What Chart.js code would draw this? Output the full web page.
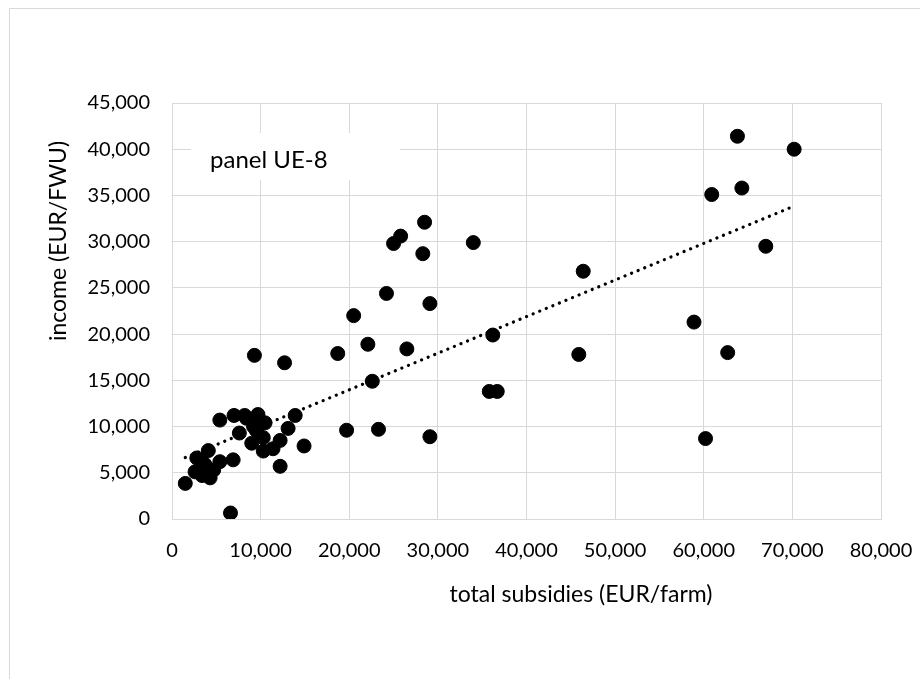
<!DOCTYPE html>
<html>
<head>
<meta charset="utf-8">
<script src="https://cdn.jsdelivr.net/npm/chart.js@4"></script>
<style>
  html, body { margin: 0; padding: 0; background: #fff; }
  #wrap { width: 920px; height: 679px; position: relative; }
</style>
</head>
<body>
<div id="wrap"><canvas id="chart" width="920" height="679"></canvas></div>
<script>
// subsidies (EUR/farm) vs income (EUR/FWU)
const subsidies = [
  63800, 70200, 60900, 64300, 67000, 58900, 62700, 60200,
  46400, 45900, 36200, 35800, 36700,
  28500, 25800, 25000, 28300, 34000, 24200, 29100, 20500, 22100,
  18700, 26500, 22600, 19700, 23300, 29100, 14900, 13900, 9300, 12700,
  1500, 6600, 2800, 4100, 3700, 2600, 4300, 3400, 5400, 4700, 6900, 3300,
  5400, 7000, 8200, 9700, 7600, 9000, 9900, 9200, 10300, 10300, 11400,
  12200, 13100, 12200, 10500, 8400, 9500
];
const income = [
  41400, 40000, 35100, 35800, 29500, 21300, 18000, 8700,
  26800, 17800, 19900, 13800, 13800,
  32100, 30600, 29800, 28700, 29900, 24400, 23300, 22000, 18900,
  17900, 18400, 14900, 9600, 9700, 8900, 7900, 11200, 17700, 16900,
  3850, 650, 6600, 7400, 5900, 5100, 4450, 4700, 6200, 5300, 6400, 6400,
  10700, 11200, 11200, 11300, 9300, 8200, 10200, 10000, 8800, 7350, 7600,
  8500, 9800, 5700, 10400, 10900, 9600
];
// linear trend end points, as drawn
const trendX = [1500, 70200];
const trendY = [6650, 33850];

const xTicksMax = 80000, xStep = 10000;
const yTicksMax = 45000, yStep = 5000;
const panelLabel = 'panel UE-8';
const xTitle = 'total subsidies (EUR/farm)';
const yTitle = 'income (EUR/FWU)';

const FONT = 'Lato, "Open Sans", sans-serif';
const GRID = '#d9d9d9';

const points = subsidies.map((x, i) => ({ x, y: income[i] }));
const trend = trendX.map((x, i) => ({ x, y: trendY[i] }));

// outer frame, panel label box, axis titles
const decor = {
  id: 'decor',
  beforeDraw(chart) {
    const ctx = chart.ctx;
    ctx.save();
    ctx.strokeStyle = GRID; ctx.lineWidth = 1;
    ctx.beginPath();
    ctx.moveTo(9.5, 679); ctx.lineTo(9.5, 8.5); ctx.lineTo(920, 8.5);
    ctx.stroke();
    ctx.restore();
  },
  beforeDatasetsDraw(chart) {
    const { ctx, chartArea: a } = chart;
    ctx.save();
    ctx.fillStyle = '#fff';
    ctx.fillRect(a.left + 19, a.top + 30, 209, 47);
    ctx.fillStyle = '#000';
    ctx.font = '24px ' + FONT;
    ctx.textBaseline = 'middle';
    ctx.fillText(panelLabel, a.left + 38, a.top + 57);
    ctx.font = '23px ' + FONT;
    ctx.textAlign = 'center';
    ctx.fillText(xTitle, a.left + 409, a.bottom + 76);
    // y title sits above the middle of the axis in the original
    ctx.translate(59, a.top + 138);
    ctx.rotate(-Math.PI / 2);
    ctx.fillText(yTitle, 0, 0);
    ctx.restore();
  }
};

new Chart(document.getElementById('chart'), {
  type: 'scatter',
  data: {
    datasets: [
      {
        data: trend,
        type: 'line',
        showLine: true,
        borderColor: '#000',
        borderWidth: 3.2,
        borderDash: [0.1, 7],
        borderCapStyle: 'round',
        pointRadius: 0,
        fill: false,
      },
      {
        data: points,
        backgroundColor: '#000',
        borderColor: '#000',
        borderWidth: 1,
        pointRadius: 7,
      },
    ]
  },
  options: {
    responsive: false,
    animation: false,
    layout: { padding: { left: 0, top: 103, right: 39, bottom: 0 } },
    plugins: { legend: { display: false }, tooltip: { enabled: false } },
    scales: {
      x: {
        type: 'linear', min: 0, max: xTicksMax,
        grid: { color: GRID, drawTicks: false },
        border: { color: GRID },
        ticks: {
          stepSize: xStep, padding: 20, color: '#000',
          font: { family: FONT, size: 20 },
          callback: v => v.toLocaleString('en-US'),
        },
        afterFit: s => { s.height = 160; s.paddingLeft = 0; s.paddingRight = 0; },
      },
      y: {
        type: 'linear', min: 0, max: yTicksMax,
        grid: { color: GRID, drawTicks: false },
        border: { color: GRID },
        ticks: {
          stepSize: yStep, padding: 22, color: '#000',
          font: { family: FONT, size: 20 },
          callback: v => v.toLocaleString('en-US'),
        },
        afterFit: s => { s.width = 172; s.paddingTop = 0; s.paddingBottom = 0; },
      }
    }
  },
  plugins: [decor]
});
</script>
</body>
</html>
